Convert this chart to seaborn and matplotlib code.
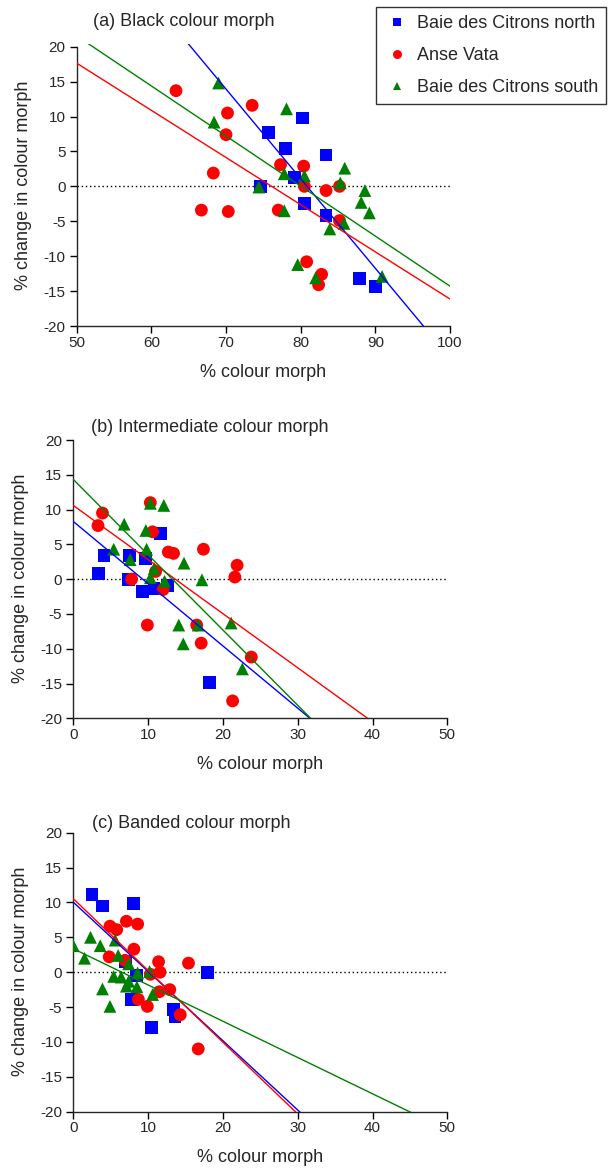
import matplotlib
matplotlib.use("Agg")
import matplotlib.pyplot as plt
import seaborn as sns
import pandas as pd

# Site names, colours and marker shapes
sites = ["Baie des Citrons north", "Anse Vata", "Baie des Citrons south"]
site_colors = {"Baie des Citrons north": "#0000ff", "Anse Vata": "#ff0000", "Baie des Citrons south": "#008000"}
site_markers = {"Baie des Citrons north": "s", "Anse Vata": "o", "Baie des Citrons south": "^"}

# (a) Black colour morph
black_north_x = [75.7, 78.0, 80.2, 83.4, 79.2, 74.6, 80.5, 83.4, 87.9, 90.0]
black_north_y = [7.7, 5.4, 9.8, 4.5, 1.3, 0.0, -2.5, -4.2, -13.2, -14.4]
black_vata_x = [63.3, 73.5, 70.2, 70.0, 77.3, 80.4, 68.3, 80.5, 83.4, 85.2, 66.7, 70.3, 77.0, 85.2, 80.8, 82.8, 82.4]
black_vata_y = [13.7, 11.6, 10.5, 7.4, 3.1, 2.9, 1.9, 0.0, -0.6, 0.0, -3.4, -3.6, -3.4, -4.9, -10.8, -12.6, -14.1]
black_south_x = [69.0, 68.4, 78.1, 77.8, 80.5, 85.9, 74.4, 85.3, 88.6, 77.8, 88.1, 89.2, 83.9, 85.8, 79.6, 82.0, 90.9]
black_south_y = [14.8, 9.2, 11.1, 1.8, 1.5, 2.6, -0.1, 0.5, -0.6, -3.5, -2.3, -3.8, -6.1, -5.3, -11.2, -13.1, -12.9]

# (b) Intermediate colour morph
inter_north_x = [4.1, 7.5, 9.6, 11.7, 3.4, 7.4, 9.3, 10.8, 12.6, 18.2]
inter_north_y = [3.4, 3.4, 3.0, 6.6, 0.8, 0.0, -1.8, -1.3, -0.9, -14.9]
inter_vata_x = [3.9, 3.3, 10.3, 10.6, 12.7, 13.4, 17.4, 21.9, 21.6, 7.8, 11.0, 12.0, 9.9, 16.5, 17.1, 23.8, 21.3]
inter_vata_y = [9.5, 7.7, 11.0, 6.8, 3.9, 3.7, 4.3, 2.0, 0.3, 0.0, 1.1, -1.5, -6.6, -6.6, -9.2, -11.2, -17.5]
inter_south_x = [10.3, 12.1, 6.8, 9.7, 5.4, 9.8, 7.6, 14.8, 10.8, 10.3, 12.2, 17.2, 14.1, 16.7, 14.7, 21.1, 22.6]
inter_south_y = [10.9, 10.6, 7.9, 7.0, 4.3, 4.3, 2.8, 2.3, 1.5, 0.2, -0.3, -0.1, -6.6, -6.6, -9.3, -6.3, -12.9]

# (c) Banded colour morph
band_north_x = [2.5, 3.9, 8.1, 7.0, 8.4, 7.8, 10.5, 13.4, 13.6, 17.9]
band_north_y = [11.1, 9.5, 9.8, 1.5, -0.5, -3.9, -7.9, -5.3, -6.4, 0.0]
band_vata_x = [4.9, 5.8, 7.1, 8.6, 8.1, 4.8, 6.9, 11.4, 15.4, 11.6, 10.3, 11.5, 12.9, 8.7, 9.9, 14.3, 16.7]
band_vata_y = [6.6, 6.1, 7.3, 6.9, 3.3, 2.2, 1.7, 1.5, 1.3, 0.0, -0.3, -2.8, -2.5, -3.9, -4.9, -6.1, -11.0]
band_south_x = [0.0, 2.3, 3.6, 5.6, 1.5, 6.0, 7.4, 5.4, 6.4, 7.4, 8.6, 10.2, 7.1, 8.5, 3.9, 4.9, 10.6]
band_south_y = [3.8, 5.0, 3.8, 4.6, 2.0, 2.4, 1.2, -0.6, -0.7, -1.3, -0.1, 0.1, -2.0, -2.1, -2.4, -4.9, -3.2]

panel_titles = ["(a) Black colour morph", "(b) Intermediate colour morph", "(c) Banded colour morph"]
panel_xlims = [(50, 100), (0, 50), (0, 50)]
yticks = [-20, -15, -10, -5, 0, 5, 10, 15, 20]


def make_frame(xs, ys):
    rows = []
    for site, x, y in zip(sites, xs, ys):
        rows.append(pd.DataFrame({"x": x, "y": y, "site": site}))
    return pd.concat(rows, ignore_index=True)


frames = [
    make_frame([black_north_x, black_vata_x, black_south_x], [black_north_y, black_vata_y, black_south_y]),
    make_frame([inter_north_x, inter_vata_x, inter_south_x], [inter_north_y, inter_vata_y, inter_south_y]),
    make_frame([band_north_x, band_vata_x, band_south_x], [band_north_y, band_vata_y, band_south_y]),
]

sns.set_style("ticks")
plt.rcParams["font.family"] = ["Liberation Sans", "DejaVu Sans"]
plt.rcParams["axes.unicode_minus"] = False

W, H = 609, 1169
fig = plt.figure(figsize=(W / 100, H / 100), dpi=100)

# axes boxes in pixels: left, top(of y=20), right, bottom(of y=-20)
boxes = [(76.7, 46.7, 450.0, 326.0), (73.3, 440.0, 447.3, 718.3), (73.3, 832.7, 447.3, 1111.7)]
title_pos = [(93, 22), (91, 428), (92, 823)]
ytop = 20.35

for i, (df, box) in enumerate(zip(frames, boxes)):
    l, t, r, b = box
    scale = (b - t) / 40.0
    t_ext = t - (ytop - 20) * scale
    ax = fig.add_axes([l / W, 1 - b / H, (r - l) / W, (b - t_ext) / H])

    ax.axhline(0, color="black", ls=(0, (1, 2)), lw=1.0, zorder=1)

    sns.scatterplot(data=df, x="x", y="y", hue="site", style="site", hue_order=sites,
                    style_order=sites, palette=site_colors, markers=site_markers,
                    s=85, linewidth=0, legend=(i == 0), ax=ax, zorder=3)

    # least-squares line for each site, across the whole x range
    ax.set_xlim(*panel_xlims[i])
    for site in sites:
        sub = df[df["site"] == site]
        sns.regplot(data=sub, x="x", y="y", scatter=False, ci=None, truncate=False,
                    color=site_colors[site], line_kws={"lw": 1.0, "zorder": 4}, ax=ax)
    ax.set_xlim(*panel_xlims[i])
    ax.set_ylim(-20, ytop)
    ax.set_yticks(yticks)
    ax.set_xticks(range(panel_xlims[i][0], panel_xlims[i][1] + 1, 10))

    sns.despine(ax=ax)
    ax.spines["left"].set_bounds(-20, 20)
    ax.spines["left"].set_linewidth(1.0)
    ax.spines["bottom"].set_linewidth(1.0)
    ax.tick_params(axis="both", direction="out", length=5, width=1.0, labelsize=11, color="black")
    ax.tick_params(axis="x", pad=2)
    ax.tick_params(axis="y", pad=3)

    ax.set_xlabel("% colour morph", fontsize=13, labelpad=10)
    ax.set_ylabel("% change in colour morph", fontsize=13, labelpad=8)

    fig.text(title_pos[i][0] / W, 1 - title_pos[i][1] / H, panel_titles[i],
             fontsize=13, ha="left", va="center")

    if i == 0:
        handles, labels = ax.get_legend_handles_labels()
        ax.get_legend().remove()
        leg = fig.legend(handles, labels, loc="upper left",
                         bbox_to_anchor=(376 / W, 1 - 7.3 / H), borderaxespad=0,
                         fontsize=13, frameon=True, fancybox=False, edgecolor="black",
                         markerscale=0.7, borderpad=0.45, labelspacing=0.82,
                         handlelength=1.4, handletextpad=0.4)
        leg.get_frame().set_linewidth(1.0)

plt.savefig("out.png", dpi=100)
